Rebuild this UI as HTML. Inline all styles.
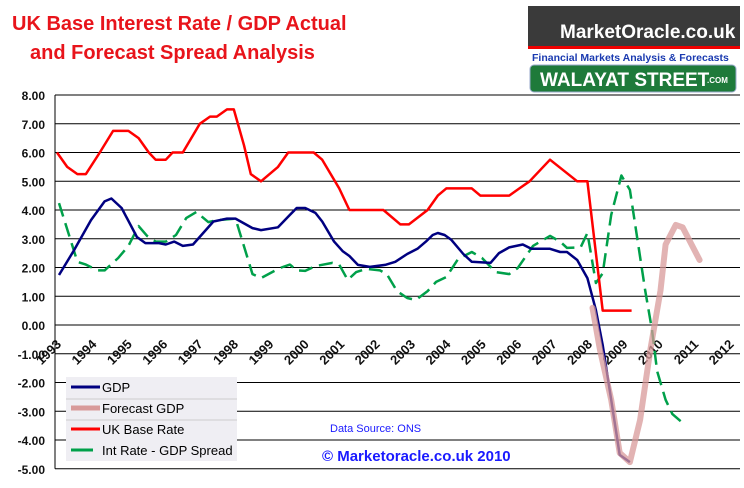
<!DOCTYPE html>
<html><head><meta charset="utf-8">
<style>
body{margin:0;background:#fff;}
svg text{font-family:"Liberation Sans",Arial,sans-serif;}
</style></head>
<body>
<svg id="c" width="744" height="483" viewBox="0 0 744 483" xmlns="http://www.w3.org/2000/svg">
<rect width="744" height="483" fill="#fff"/>
<text x="12" y="30" font-size="20" font-weight="bold" fill="#e8141b">UK Base Interest Rate / GDP Actual</text>
<text x="30" y="59" font-size="20" font-weight="bold" fill="#e8141b">and Forecast Spread Analysis</text>
<g>
<rect x="528" y="6" width="212" height="40" fill="#3a3a3a"/>
<text x="560" y="38" font-size="19" font-weight="bold" fill="#fff">MarketOracle.co.uk</text>
<rect x="528" y="46" width="212" height="3" fill="#e00"/>
<text x="532" y="61" font-size="10.5" font-weight="bold" fill="#1a3ab0">Financial Markets Analysis &amp; Forecasts</text>
<rect x="530" y="65" width="206" height="27" rx="4" fill="#1e7a3a" stroke="#9ac" stroke-width="1"/>
<text x="540" y="86" font-size="19" font-weight="bold" fill="#fff">WALAYAT STREET</text>
<text x="707" y="83" font-size="8" font-weight="bold" fill="#fff">.COM</text>
</g>
<g id="grid"></g>
<g id="axes"></g>
<g id="series"></g>
<g>
<rect x="66" y="377" width="171" height="84" fill="#efeef3"/>
<line x1="71" y1="387" x2="100" y2="387" stroke="#000080" stroke-width="3"/>
<text x="102" y="392" font-size="13" fill="#000">GDP</text>
<line x1="66" y1="399" x2="237" y2="399" stroke="#ccc"/>
<line x1="71" y1="408" x2="100" y2="408" stroke="#d89a9a" stroke-width="5"/>
<text x="102" y="413" font-size="13" fill="#000">Forecast GDP</text>
<line x1="66" y1="420" x2="237" y2="420" stroke="#ccc"/>
<line x1="71" y1="429" x2="100" y2="429" stroke="#ff0000" stroke-width="3"/>
<text x="102" y="434" font-size="13" fill="#000">UK Base Rate</text>
<line x1="71" y1="450" x2="93" y2="450" stroke="#00a04a" stroke-width="3"/>
<text x="102" y="455" font-size="13" fill="#000">Int Rate - GDP Spread</text>
</g>
<text x="330" y="432" font-size="11" fill="#1a1aff">Data Source: ONS</text>
<text x="322" y="461" font-size="15" font-weight="bold" fill="#1a1aff">© Marketoracle.co.uk  2010</text>
</svg>
<script>
const yTicks=[8,7,6,5,4,3,2,1,0,-1,-2,-3,-4,-5];
const years=[1993,1994,1995,1996,1997,1998,1999,2000,2001,2002,2003,2004,2005,2006,2007,2008,2009,2010,2011,2012];
const rateT=[1993.0,1993.3,1993.6,1993.85,1994.26,1994.65,1995.1,1995.4,1995.7,1995.9,1996.2,1996.4,1996.7,1997.2,1997.5,1997.7,1998.0,1998.2,1998.5,1998.7,1999.0,1999.5,1999.8,2000.55,2000.8,2001.3,2001.6,2002.6,2003.1,2003.35,2003.9,2004.2,2004.45,2005.2,2005.45,2006.3,2006.6,2006.9,2007.5,2008.3,2008.6,2009.05,2009.9];
const rateV=[6.0,5.5,5.25,5.25,6.0,6.75,6.75,6.5,6.0,5.75,5.75,6.0,6.0,7.0,7.25,7.25,7.5,7.5,6.25,5.25,5.0,5.5,6.0,6.0,5.75,4.75,4.0,4.0,3.5,3.5,4.0,4.5,4.75,4.75,4.5,4.5,4.75,5.0,5.75,5.0,5.0,0.5,0.5];
const gdpT=[1993.06,1993.5,1994.0,1994.4,1994.6,1994.9,1995.35,1995.6,1996.0,1996.2,1996.45,1996.7,1997.0,1997.6,1998.0,1998.25,1998.75,1999.0,1999.5,1999.85,2000.05,2000.3,2000.6,2000.8,2001.15,2001.4,2001.6,2001.85,2002.2,2002.65,2002.95,2003.3,2003.6,2003.85,2004.05,2004.2,2004.4,2004.6,2004.95,2005.2,2005.75,2006.0,2006.3,2006.7,2006.95,2007.5,2007.8,2008.0,2008.3,2008.6,2008.85,2009.05,2009.3,2009.55,2009.85];
const gdpV=[1.74,2.6,3.65,4.3,4.4,4.07,3.06,2.85,2.85,2.8,2.9,2.75,2.8,3.6,3.7,3.7,3.37,3.3,3.4,3.83,4.07,4.07,3.9,3.6,2.9,2.57,2.4,2.09,2.02,2.09,2.2,2.47,2.65,2.9,3.13,3.2,3.13,2.96,2.47,2.2,2.16,2.5,2.7,2.8,2.65,2.65,2.54,2.54,2.26,1.63,0.52,-0.7,-2.6,-4.52,-4.77];
const fcT=[2008.75,2008.97,2009.3,2009.55,2009.85,2010.15,2010.45,2010.75,2010.9,2011.2,2011.4,2011.9];
const fcV=[0.6,-0.87,-2.6,-4.45,-4.77,-3.3,-0.87,1.2,2.8,3.48,3.4,2.26];
const sprT=[1993.06,1993.6,1993.85,1994.2,1994.4,1994.8,1995.1,1995.4,1995.65,1995.9,1996.2,1996.5,1996.8,1997.1,1997.45,1997.7,1998.25,1998.75,1999.0,1999.55,1999.85,2000.05,2000.3,2000.6,2001.1,2001.3,2001.55,2001.8,2002.1,2002.5,2002.7,2003.0,2003.3,2003.55,2003.9,2004.15,2004.45,2004.8,2005.2,2005.5,2005.9,2006.3,2006.55,2007.0,2007.5,2007.8,2008.0,2008.4,2008.6,2008.85,2009.05,2009.3,2009.6,2009.85,2010.3,2010.5,2010.65,2010.9,2011.1,2011.4];
const sprV=[4.24,2.2,2.1,1.9,1.9,2.33,2.75,3.44,3.1,2.9,2.9,3.13,3.72,3.93,3.58,3.65,3.7,1.77,1.63,1.98,2.1,1.9,1.88,2.05,2.16,2.1,1.57,1.84,1.95,1.9,1.77,1.18,0.94,0.87,1.18,1.5,1.67,2.3,2.54,2.33,1.84,1.77,1.98,2.75,3.1,2.9,2.68,2.7,3.2,1.46,1.8,3.83,5.2,4.7,1.2,-0.17,-1.6,-2.6,-3.1,-3.4];
const NS="http://www.w3.org/2000/svg";
const X0=57,XS=34,Y0=325,YS=28.75,PL=55,PR=740;
function xS(t){return X0+XS*(t-1993);}
function yS(v){return Y0-YS*v;}
function mk(tag,attrs,parent){const e=document.createElementNS(NS,tag);for(const k in attrs)e.setAttribute(k,attrs[k]);parent.appendChild(e);return e;}
const grid=document.getElementById('grid'),axes=document.getElementById('axes'),ser=document.getElementById('series');
yTicks.forEach(v=>{
  const l=mk('line',{x1:PL,x2:PR,y1:yS(v),y2:yS(v),stroke:'#000','stroke-width':1},grid);
  
  
  const t=mk('text',{x:45,y:yS(v)+5,'text-anchor':'end','font-size':12,'font-weight':'bold',fill:'#111'},axes);
  t.textContent=v.toFixed(2);
  
  
});
const ax=mk('line',{x1:PL,x2:PL,y1:yS(8),y2:yS(-5),stroke:'#000','stroke-width':1},axes);


years.forEach((y,i)=>{
  const ex=62+35.4*i, ey=345;
  const t=mk('text',{x:ex,y:ey,'text-anchor':'end','font-size':13,'font-weight':'bold',fill:'#111',transform:`rotate(-45 ${ex} ${ey})`},axes);
  t.textContent=y;
  
  
});
function line(T,V,attrs,name){
  const d=T.map((t,i)=>(i?'L':'M')+xS(t).toFixed(1)+' '+yS(V[i]).toFixed(1)).join(' ');
  const p=mk('path',Object.assign({d:d,fill:'none','stroke-linejoin':'round'},attrs),ser);
  
  
}
line(sprT,sprV,{stroke:'#00a04a','stroke-width':2.5,'stroke-dasharray':'14 7'},'spread-line');
line(rateT,rateV,{stroke:'#ff0000','stroke-width':2.5},'base-rate-line');
line(gdpT,gdpV,{stroke:'#000080','stroke-width':2.5},'gdp-line');
line(fcT,fcV,{stroke:'#d89a9a','stroke-width':6,'stroke-opacity':0.75,'stroke-linecap':'round'},'forecast-gdp-line');
</script>
</body></html>
